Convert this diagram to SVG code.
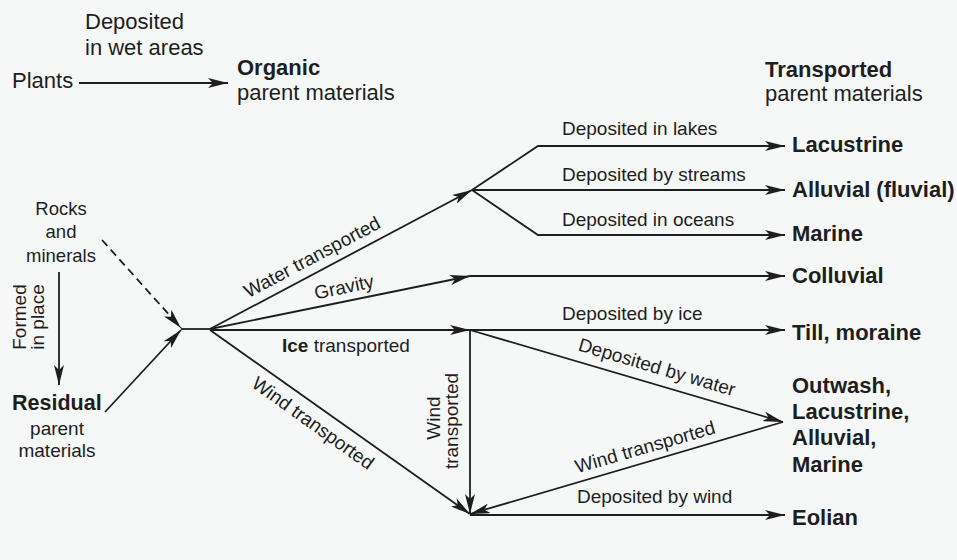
<svg xmlns="http://www.w3.org/2000/svg" width="957" height="560" viewBox="0 0 957 560">
<defs>
<style>
text{font-family:"Liberation Sans",Arial,sans-serif;fill:#1e1e1e}
.L{font-size:22px}
.B{font-size:22px;font-weight:bold}
.s{font-size:19px}
.m{text-anchor:middle}
.ln{fill:none;stroke:#1e1e1e;stroke-width:1.8}
.ar{marker-end:url(#ah)}
.d{stroke-dasharray:8 5}
</style>
<marker id="ah" viewBox="0 0 20 10" refX="20" refY="5" markerWidth="20" markerHeight="10" markerUnits="userSpaceOnUse" orient="auto">
<path d="M0,0 L20,5 L0,10 L5,5 z" fill="#1e1e1e"/>
</marker>
</defs>
<rect width="957" height="560" fill="#f5f8f7"/>
<g id="connectors">
<path class="ln ar" d="M79,83 L228,83"/>
<path class="ln ar d" d="M102,240 L181,328"/>
<path class="ln ar" d="M105,412 L181,330"/>
<path class="ln ar" d="M59,272 L59,385"/>
<path class="ln" d="M181,329 L210,329"/>
<path class="ln ar" d="M210,329 L472,190"/>
<path class="ln ar" d="M472,190 L538,146 L785,146"/>
<path class="ln ar" d="M472,190 L785,190"/>
<path class="ln ar" d="M472,190 L538,235 L785,235"/>
<path class="ln ar" d="M210,329 L470,276"/>
<path class="ln ar" d="M470,276 L785,276"/>
<path class="ln ar" d="M210,330 L470,330"/>
<path class="ln ar" d="M470,330 L785,330"/>
<path class="ln ar" d="M470,330 L783,422"/>
<path class="ln ar" d="M783,422 L470,514"/>
<path class="ln ar" d="M470,330 L470,514"/>
<path class="ln ar" d="M210,330 L470,514"/>
<path class="ln ar" d="M470,515 L785,515"/>
</g>
<g id="labels">
<text class="s" transform="translate(312,257) rotate(-28)"><tspan class="m" x="0" y="6.5">Water transported</tspan></text>
<text class="s m" transform="translate(344,287) rotate(-11.7)" x="0" y="6.5">Gravity</text>
<text class="s" x="282" y="352"><tspan font-weight="bold">Ice</tspan> transported</text>
<text class="s m" transform="translate(313,423) rotate(35.6)" x="0" y="6.5">Wind transported</text>
<text class="s" x="562" y="135">Deposited in lakes</text>
<text class="s" x="562" y="181">Deposited by streams</text>
<text class="s" x="562" y="226">Deposited in oceans</text>
<text class="s" x="562" y="320">Deposited by ice</text>
<text class="s m" transform="translate(657,367) rotate(16.4)" x="0" y="6.5">Deposited by water</text>
<text class="s m" transform="translate(645,447) rotate(-16.1)" x="0" y="6.5">Wind transported</text>
<text class="s" x="577" y="503">Deposited by wind</text>
<text class="s m" transform="translate(440,418) rotate(-90)" x="0" y="0">Wind</text>
<text class="s m" transform="translate(458,421) rotate(-90)" x="0" y="0">transported</text>
<text class="s m" transform="translate(26,317) rotate(-90)" x="0" y="0">Formed</text>
<text class="s m" transform="translate(44,317) rotate(-90)" x="0" y="0">in place</text>
<text class="L" x="85" y="29">Deposited</text>
<text class="L" x="85" y="55">in wet areas</text>
</g>
<g id="node-plants"><text class="L" x="12" y="88">Plants</text></g>
<g id="node-organic"><text class="B" x="237" y="75">Organic</text><text class="L" x="237" y="100">parent materials</text></g>
<g id="node-transported"><text class="B" x="765" y="77">Transported</text><text class="L" x="765" y="101">parent materials</text></g>
<g id="node-rocks"><text class="m" style="font-size:18.5px" x="61" y="215">Rocks</text><text class="m" style="font-size:18.5px" x="61" y="238">and</text><text class="m" style="font-size:18.5px" x="61" y="262">minerals</text></g>
<g id="node-residual"><text style="font-size:21.5px;font-weight:bold" x="12" y="410">Residual</text><text class="s m" x="57" y="435">parent</text><text class="s m" x="57" y="457">materials</text></g>
<g id="node-lacustrine"><text class="B" x="792" y="152">Lacustrine</text></g>
<g id="node-alluvial"><text class="B" x="792" y="197">Alluvial (fluvial)</text></g>
<g id="node-marine"><text class="B" x="792" y="241">Marine</text></g>
<g id="node-colluvial"><text class="B" x="792" y="283">Colluvial</text></g>
<g id="node-till"><text class="B" x="792" y="340">Till, moraine</text></g>
<g id="node-outwash"><text class="B" x="792" y="393">Outwash,</text><text class="B" x="792" y="419">Lacustrine,</text><text class="B" x="792" y="445">Alluvial,</text><text class="B" x="792" y="472">Marine</text></g>
<g id="node-eolian"><text class="B" x="792" y="525">Eolian</text></g>
</svg>
